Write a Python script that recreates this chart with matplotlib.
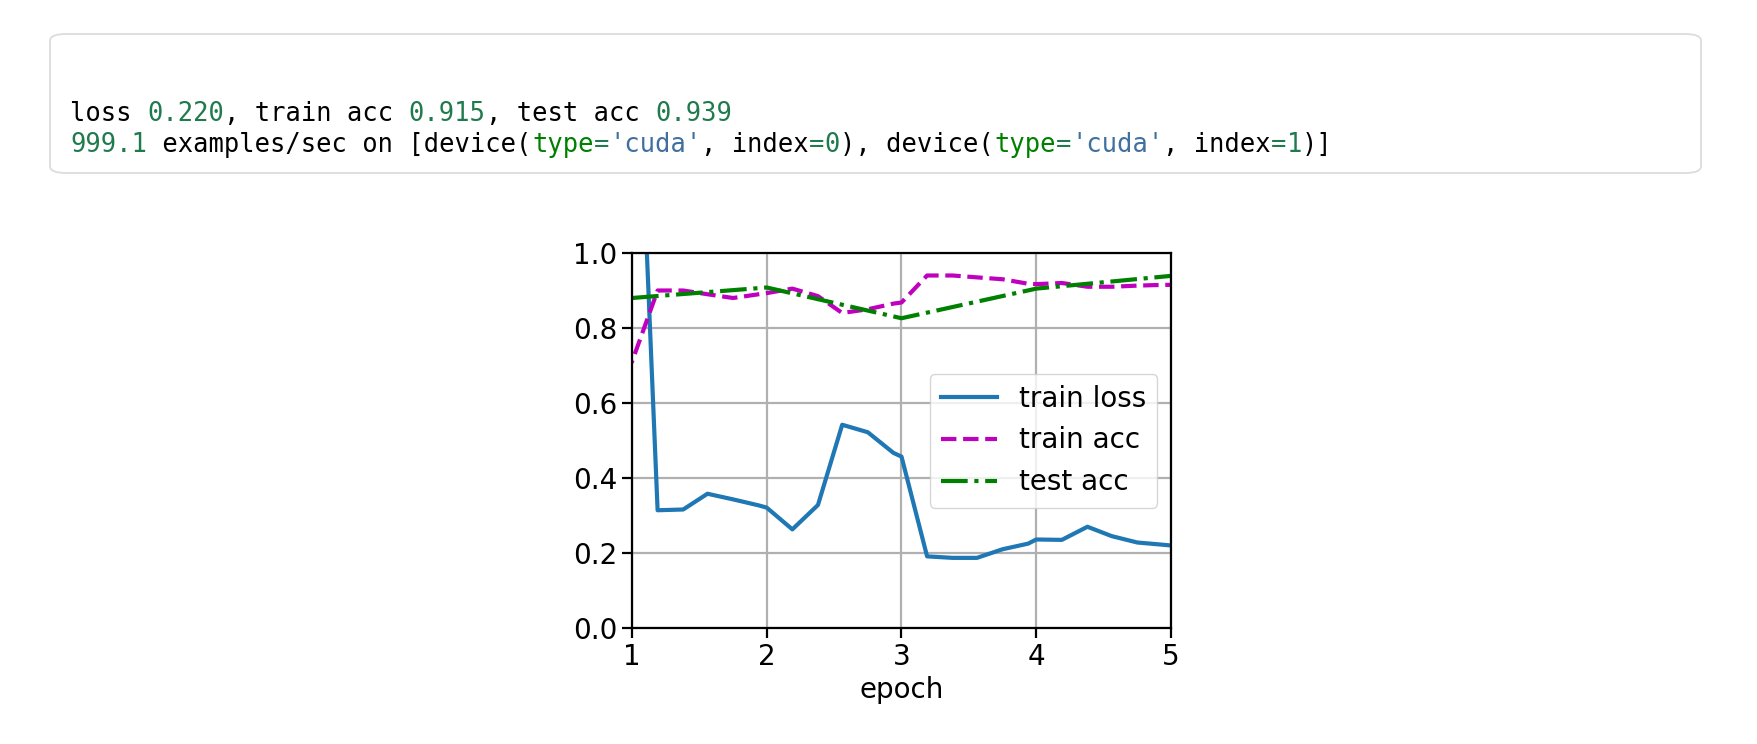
import matplotlib
matplotlib.use("Agg")
import matplotlib.pyplot as plt
from matplotlib.patches import FancyBboxPatch

loss_x = [0.94, 1.0, 1.19, 1.38, 1.56, 1.75, 1.94, 2.0, 2.19, 2.38, 2.56, 2.75, 2.94, 3.0,
          3.19, 3.38, 3.56, 3.75, 3.94, 4.0, 4.19, 4.38, 4.56, 4.75, 4.94, 5.0]
train_loss = [2.0, 1.95, 0.314, 0.316, 0.358, 0.343, 0.327, 0.321, 0.263, 0.328, 0.542, 0.522,
              0.467, 0.457, 0.191, 0.187, 0.187, 0.21, 0.225, 0.236, 0.235, 0.27, 0.245, 0.228,
              0.222, 0.220]
train_acc = [0.68, 0.71, 0.90, 0.90, 0.89, 0.88, 0.89, 0.893, 0.905, 0.885, 0.84, 0.85, 0.865,
             0.868, 0.94, 0.94, 0.935, 0.93, 0.918, 0.917, 0.92, 0.91, 0.91, 0.913, 0.915, 0.915]
test_x = [1, 2, 3, 4, 5]
test_acc = [0.88, 0.908, 0.826, 0.905, 0.939]
xticks = [1, 2, 3, 4, 5]
yticks = [0.0, 0.2, 0.4, 0.6, 0.8, 1.0]

W, H = 1758, 744
s = 2.0
fig = plt.figure(figsize=(W/100, H/100), dpi=100)

box = FancyBboxPatch((50/W, 1-173/H), (1701-50)/W, (173-34)/H,
                     boxstyle="round,pad=0,rounding_size=0.009", transform=fig.transFigure,
                     facecolor="white", edgecolor="#dcdcdc", linewidth=1.3)
fig.patches.append(box)

K, N, G, S = "black", "#1f7a4d", "#008000", "#4070a0"
lines = [
    [("loss ", K), ("0.220", N), (", train acc ", K), ("0.915", N), (", test acc ", K), ("0.939", N)],
    [("999.1", N), (" examples/sec on [device(", K), ("type", G), ("=", N), ("'cuda'", S),
     (", index", K), ("=", N), ("0", N), ("), device(", K), ("type", G), ("=", N), ("'cuda'", S),
     (", index", K), ("=", N), ("1", N), (")]", K)],
]
cw = 15.4 / W
for li, segs in enumerate(lines):
    y = 1 - (114 + li * 31) / H
    n = 0
    for txt, col in segs:
        fig.text(70/W + n * cw, y, txt, color=col, family="DejaVu Sans Mono",
                 fontsize=18.4, va="center", ha="left")
        n += len(txt)

ax = fig.add_axes([632/W, 1-628/H, (1171-632)/W, (628-253)/H])
lw = 1.5 * s
ax.plot(loss_x, train_loss, "-", color="#1f77b4", lw=lw, label="train loss")
ax.plot(loss_x, train_acc, "--", color="m", lw=lw, label="train acc")
ax.plot(test_x, test_acc, "-.", color="g", lw=lw, label="test acc")
ax.set_xlim(1, 5)
ax.set_ylim(0, 1)
ax.set_xticks(xticks)
ax.set_yticks(yticks)
ax.set_yticklabels([f"{v:.1f}" for v in yticks])
ax.grid(True, color="#b0b0b0", lw=0.8 * s)
ax.tick_params(labelsize=10 * s, length=3.5 * s, width=0.8 * s)
for sp in ax.spines.values():
    sp.set_linewidth(0.8 * s)
ax.set_xlabel("epoch", fontsize=10 * s)
ax.legend(loc="center right", fontsize=10 * s, framealpha=0.8)
fig.savefig("out.png", dpi=100)
